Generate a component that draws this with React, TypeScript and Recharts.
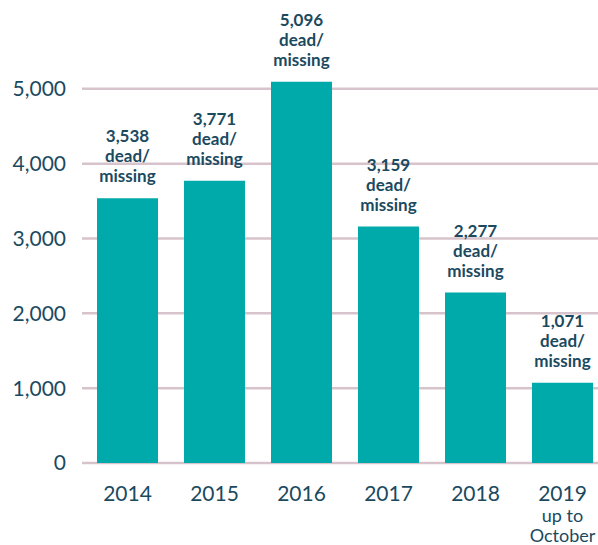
import React from 'react';
import { BarChart, Bar, XAxis, YAxis, CartesianGrid, LabelList } from 'recharts';

const years = ['2014', '2015', '2016', '2017', '2018', '2019'];
const deadMissing = [3538, 3771, 5096, 3159, 2277, 1071];
const yTicks = [0, 1000, 2000, 3000, 4000, 5000];
const yearNotes: Record<string, string[]> = { '2019': ['up to', 'October'] };

const data = years.map((year, i) => ({ year, value: deadMissing[i] }));

const TEXT = '#1b4a5f';
const TEAL = '#00a9aa';
const GRID = '#d7c3cb';
const FONT = 'Lato, "Open Sans", sans-serif';

// year under each bar, plus the "up to October" note for 2019
const YearTick = ({ x, y, payload }: any) => {
  const notes = yearNotes[payload.value] || [];
  return (
    <g>
      <text x={x} y={y + 30} textAnchor="middle" fill={TEXT} fontSize={21} fontFamily={FONT}>
        {payload.value}
      </text>
      {notes.map((line, i) => (
        <text
          key={line}
          x={x}
          y={y + 51 + i * 20}
          textAnchor="middle"
          fill={TEXT}
          fontSize={18}
          fontFamily={FONT}
        >
          {line}
        </text>
      ))}
    </g>
  );
};

// three-line label above each bar
const BarLabel = ({ x, y, width, value }: any) => {
  const cx = x + width / 2;
  const lines = [Number(value).toLocaleString('en-US'), 'dead/', 'missing'];
  return (
    <g>
      {lines.map((line, i) => (
        <text
          key={i}
          x={cx}
          y={y - 56 + i * 20}
          textAnchor="middle"
          fill={TEXT}
          fontSize={17}
          fontWeight={700}
          fontFamily={FONT}
        >
          {line}
        </text>
      ))}
    </g>
  );
};

export default function App() {
  return (
    <div
      style={{
        position: 'absolute',
        left: 0,
        top: 0,
        width: 598,
        height: 545,
        overflow: 'hidden',
        background: '#fff',
      }}
    >
      <BarChart
        width={610}
        height={545}
        data={data}
        margin={{ top: 14, right: 4, left: 0, bottom: 0 }}
      >
        <CartesianGrid vertical={false} syncWithTicks stroke={GRID} strokeWidth={2.5} />
        <XAxis
          dataKey="year"
          height={82}
          axisLine={false}
          tickLine={false}
          interval={0}
          padding={{ left: 2, right: 0 }}
          tick={<YearTick />}
        />
        <YAxis
          width={82}
          domain={[0, 6000]}
          ticks={yTicks}
          axisLine={false}
          tickLine={false}
          tickMargin={10}
          tickFormatter={(v: number) => v.toLocaleString('en-US')}
          tick={{ fill: TEXT, fontSize: 21, fontFamily: FONT }}
        />
        <Bar dataKey="value" fill={TEAL} barSize={61} isAnimationActive={false}>
          <LabelList dataKey="value" content={<BarLabel />} />
        </Bar>
      </BarChart>
    </div>
  );
}
